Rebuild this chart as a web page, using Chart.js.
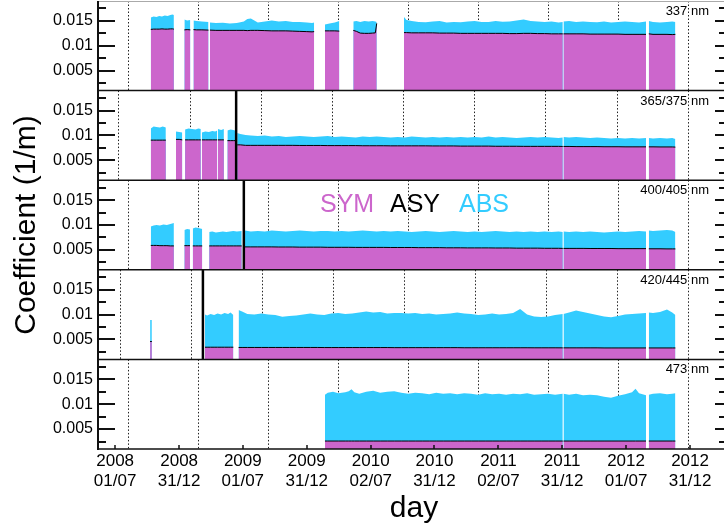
<!DOCTYPE html>
<html>
<head>
<meta charset="utf-8">
<script src="https://cdn.jsdelivr.net/npm/chart.js@4.4.1/dist/chart.umd.min.js"></script>
<style>
  html, body { margin: 0; padding: 0; background: #fff; }
  canvas { display: block; }
</style>
</head>
<body>
<canvas id="chart" width="724" height="528"></canvas>
<script>
// x is the day number counted from 2008-01-01
const tickDays = [182, 365, 547, 730, 913, 1095, 1278, 1460, 1643, 1826];
const tickLabels = [['2008', '01/07'], ['2008', '31/12'], ['2009', '01/07'], ['2009', '31/12'], ['2010', '02/07'],
                    ['2010', '31/12'], ['2011', '02/07'], ['2011', '31/12'], ['2012', '01/07'], ['2012', '31/12']];
const yTicks = [0.005, 0.01, 0.015];
const yTickLabels = ['0.005', '0.01', '0.015'];
const yMinorTicks = [0.0025, 0.0075, 0.0125, 0.0175];

const panelNames = ['337 nm', '365/375 nm', '400/405 nm', '420/445 nm', '473 nm'];
const gridDays = [
  [219, 419, 619, 819, 1019, 1219, 1419, 1619, 1819],
  [190, 396, 599, 802, 1005, 1208, 1411, 1617, 1820],
  [219, 419, 619, 819, 1019, 1219, 1419, 1619, 1819],
  [196, 399, 602, 805, 1008, 1211, 1414, 1617, 1820],
  [219, 419, 619, 819, 1019, 1219, 1419, 1619, 1819]
];
const changeDay = [null, 528, 550, 433, null];
const legendNames = ['SYM', 'ASY', 'ABS'];

// 337 nm
const days337 = [284, 292, 300, 308, 316, 324, 332, 340, 346, 350, 365,
  380, 388, 397, 401,
  406, 415, 430, 449, 451, 453, 470, 490, 510, 530, 550, 560, 570, 580, 590, 610, 630, 650, 670, 690, 710, 730, 745, 751, 765,
  782, 795, 810, 823, 840,
  863, 872, 883, 895, 907, 918, 926, 930, 970,
  1008, 1015, 1030, 1050, 1070, 1090, 1110, 1130, 1150, 1170, 1190, 1210, 1230, 1250, 1270, 1290, 1310, 1330, 1350, 1370, 1390, 1410, 1430, 1450, 1462, 1463,
  1464, 1480, 1500, 1520, 1540, 1560, 1580, 1600, 1620, 1640, 1660, 1680, 1700, 1705,
  1708, 1720, 1740, 1760, 1775, 1784];
const abs337 = [0.0157, 0.0159, 0.0158, 0.0160, 0.0159, 0.0161, 0.0160, 0.0162, 0.0163, 0.0162, null,
  0.0153, 0.0151, 0.0152, null,
  0.0151, 0.0150, 0.0149, 0.0148, null, 0.0147, 0.0146, 0.01465, 0.0145, 0.0146, 0.0149, 0.0154, 0.0155, 0.0151, 0.0147, 0.0149, 0.0151, 0.0149, 0.0150, 0.0148, 0.0148, 0.0147, 0.0146, 0.0147, null,
  0.0143, 0.0145, 0.0147, 0.0150, null,
  0.0149, 0.0150, 0.0148, 0.0150, 0.0149, 0.0150, 0.0149, 0.0148, null,
  0.0158, 0.0152, 0.0150, 0.0148, 0.01475, 0.0149, 0.0150, 0.0147, 0.0148, 0.01475, 0.0149, 0.0150, 0.0148, 0.0148, 0.0150, 0.01485, 0.0149, 0.0151, 0.0153, 0.0150, 0.0149, 0.0148, 0.0149, 0.0147, 0.0148, null,
  0.0149, 0.0150, 0.0148, 0.0149, 0.0148, 0.01475, 0.0149, 0.0147, 0.0148, 0.0149, 0.0148, 0.0147, 0.0149, null,
  0.0150, 0.0148, 0.0147, 0.0148, 0.0149, 0.0148];
const sym337 = [0.0133, 0.01335, 0.01335, 0.01335, 0.0134, 0.01335, 0.01335, 0.0134, 0.0134, 0.01335, null,
  0.0132, 0.01325, 0.0132, null,
  0.01325, 0.0132, 0.0132, 0.01315, null, 0.01315, 0.0131, 0.0131, 0.0131, 0.0131, 0.0131, 0.01305, 0.0131, 0.0131, 0.0131, 0.01305, 0.0130, 0.0130, 0.0130, 0.01295, 0.0129, 0.01285, 0.0128, 0.01285, null,
  0.0130, 0.0130, 0.0130, 0.01295, null,
  0.0131, 0.0129, 0.01255, 0.0125, 0.0125, 0.01255, 0.0126, 0.0145, null,
  0.01265, 0.01265, 0.0126, 0.0126, 0.0126, 0.0126, 0.01255, 0.01255, 0.01255, 0.0125, 0.0125, 0.0125, 0.0125, 0.0125, 0.0125, 0.0125, 0.01245, 0.01245, 0.0125, 0.0125, 0.01245, 0.01245, 0.0124, 0.0124, 0.0124, null,
  0.0124, 0.0124, 0.0124, 0.0124, 0.01235, 0.01235, 0.01235, 0.01235, 0.01235, 0.0123, 0.0123, 0.0123, 0.0123, null,
  0.0124, 0.0123, 0.0123, 0.0123, 0.01225, 0.0123];

// 365/375 nm
const days365 = [284, 292, 300, 310, 318, 327, 341,
  356, 365, 374, 378,
  382, 392, 402, 412, 420, 427, 428.5,
  430, 440, 450, 460, 468, 474, 475,
  476, 485, 493, 498,
  503, 512, 520, 525, 528,
  531, 540, 555, 570, 590, 610, 630, 650, 670, 690, 710, 730, 750, 770, 790, 810, 830, 850, 870, 890, 910, 930, 950, 970,
  990, 1010, 1030, 1050, 1070, 1090, 1110, 1130, 1150, 1170, 1190, 1210, 1230, 1250, 1270, 1290, 1310, 1330, 1350, 1370,
  1390, 1410, 1430, 1450, 1462, 1463,
  1464, 1480, 1500, 1520, 1540, 1560, 1580, 1600, 1620, 1640, 1660, 1680, 1700, 1705,
  1708, 1720, 1740, 1760, 1775, 1784];
const abs365 = [0.0114, 0.0118, 0.0117, 0.0116, 0.0118, 0.0116, null,
  0.0108, 0.0107, 0.0106, null,
  0.0112, 0.0114, 0.0113, 0.0112, 0.0114, 0.0113, null,
  0.0106, 0.0108, 0.0107, 0.0109, 0.0108, 0.0110, null,
  0.0113, 0.0111, 0.0113, null,
  0.0110, 0.0112, 0.0111, 0.0110, null,
  0.0105, 0.0103, 0.0101, 0.0100, 0.0099, 0.0100, 0.0098, 0.0099, 0.0097, 0.0098, 0.0099, 0.0098, 0.0097, 0.0098, 0.0099, 0.0097, 0.0098, 0.0097, 0.0096, 0.0098, 0.0097, 0.0098, 0.0097, 0.0096,
  0.0097, 0.0096, 0.0098, 0.0097, 0.0096, 0.0097, 0.0096, 0.0097, 0.0096, 0.0097, 0.0096, 0.0097, 0.0096, 0.0098, 0.0096, 0.0097, 0.0096, 0.0095, 0.0096, 0.0097,
  0.0096, 0.0097, 0.0096, 0.0095, 0.0096, null,
  0.0097, 0.0096, 0.0097, 0.0096, 0.0095, 0.0096, 0.0095, 0.0094, 0.0095, 0.0094, 0.0095, 0.0094, 0.0095, null,
  0.0095, 0.0094, 0.0095, 0.0094, 0.0095, 0.0093];
const sym365 = [0.00905, 0.00905, 0.00905, 0.00905, 0.00905, 0.00905, null,
  0.0092, 0.0092, 0.0091, null,
  0.0091, 0.0091, 0.0091, 0.0091, 0.0091, 0.0091, null,
  0.0091, 0.0091, 0.0091, 0.0091, 0.0091, 0.0091, null,
  0.0091, 0.0091, 0.0091, null,
  0.00895, 0.00895, 0.00895, 0.00895, null,
  0.0081, 0.0081, 0.0080, 0.0080, 0.0080, 0.0080, 0.0080, 0.0080, 0.0080, 0.0080, 0.00798, 0.00798, 0.00798, 0.00798, 0.00795, 0.00795, 0.00795, 0.00795, 0.00795, 0.00792, 0.00792, 0.00792, 0.00792, 0.0079,
  0.0079, 0.0079, 0.0079, 0.0079, 0.0079, 0.00788, 0.00788, 0.00788, 0.00788, 0.00785, 0.00785, 0.00785, 0.00785, 0.00785, 0.00782, 0.00782, 0.00782, 0.00782, 0.0078, 0.0078,
  0.0078, 0.0078, 0.0078, 0.0078, 0.00778, null,
  0.00778, 0.00778, 0.00775, 0.00775, 0.00775, 0.00775, 0.00772, 0.00772, 0.00772, 0.0077, 0.0077, 0.0077, 0.0077, null,
  0.0077, 0.0077, 0.00768, 0.00768, 0.00768, 0.00765];

// 400/405 nm
const days400 = [284, 292, 300, 310, 320, 330, 340, 350, 365,
  380, 388, 396, 400,
  404, 412, 420, 431, 441,
  451, 460, 470, 480, 490, 500, 510, 520, 530, 544, 548,
  553, 570, 590, 610, 630, 650, 670, 690, 710, 730, 750, 770, 790, 810, 830, 850, 870, 890, 910, 930, 950, 970,
  990, 1010, 1030, 1050, 1070, 1090, 1110, 1130, 1150, 1170, 1190, 1210, 1230, 1250, 1270, 1290, 1310, 1330, 1350, 1370,
  1390, 1410, 1430, 1450, 1462, 1463,
  1464, 1480, 1500, 1520, 1540, 1560, 1580, 1600, 1620, 1640, 1660, 1680, 1700, 1705,
  1708, 1720, 1740, 1760, 1775, 1784];
const abs400 = [0.0097, 0.0099, 0.0100, 0.0099, 0.0101, 0.0100, 0.0102, 0.0104, null,
  0.0090, 0.0092, 0.0091, null,
  0.0093, 0.0095, 0.0094, 0.0092, null,
  0.0086, 0.0087, 0.0085, 0.0086, 0.0087, 0.0086, 0.0087, 0.0088, 0.0087, 0.0088, null,
  0.0089, 0.0087, 0.0088, 0.0087, 0.0089, 0.0088, 0.0087, 0.0088, 0.0089, 0.0088, 0.0087, 0.0088, 0.0088, 0.0087, 0.0088, 0.0087, 0.0088, 0.0089, 0.0088, 0.0087, 0.0088, 0.0087,
  0.0088, 0.0087, 0.0086, 0.0087, 0.0088, 0.0087, 0.0086, 0.0087, 0.0088, 0.0087, 0.0086, 0.0087, 0.0086, 0.0087, 0.0088, 0.0087, 0.0086, 0.0087, 0.0086, 0.0087,
  0.0086, 0.0087, 0.0086, 0.0087, 0.0086, null,
  0.0087, 0.0086, 0.0087, 0.0086, 0.0087, 0.0086, 0.0085, 0.0086, 0.0087, 0.0086, 0.0087, 0.0088, 0.0087, null,
  0.0089, 0.0088, 0.0089, 0.0090, 0.0089, 0.0086];
const sym400 = [0.0059, 0.0059, 0.0059, 0.00585, 0.00585, 0.00585, 0.0058, 0.0058, null,
  0.00585, 0.00585, 0.00585, null,
  0.0058, 0.0058, 0.0058, 0.0058, null,
  0.0058, 0.0058, 0.0058, 0.0058, 0.0058, 0.0058, 0.0058, 0.0058, 0.0058, 0.0058, null,
  0.0056, 0.0056, 0.0056, 0.0056, 0.0056, 0.00558, 0.00558, 0.00558, 0.00555, 0.00555, 0.00555, 0.00555, 0.00552, 0.00552, 0.00552, 0.00552, 0.0055, 0.0055, 0.0055, 0.0055, 0.0055, 0.00548,
  0.00548, 0.00548, 0.00548, 0.00545, 0.00545, 0.00545, 0.00545, 0.00542, 0.00542, 0.00542, 0.0054, 0.0054, 0.0054, 0.0054, 0.00538, 0.00538, 0.00538, 0.00535, 0.00535, 0.00535,
  0.00535, 0.00532, 0.00532, 0.00532, 0.0053, null,
  0.0053, 0.0053, 0.0053, 0.0053, 0.00528, 0.00528, 0.00528, 0.00528, 0.00525, 0.00525, 0.00525, 0.00525, 0.00525, null,
  0.00522, 0.00522, 0.00522, 0.0052, 0.0052, 0.0052];

// 420/445 nm
const days420 = [282, 287, 300,
  439, 445, 455, 465, 475, 485, 495, 505, 512, 520, 527,
  535, 545, 560, 580, 600, 620, 640, 660, 680, 700, 720, 740, 760, 780, 800, 820, 840, 860, 880, 900, 920, 940, 960,
  980, 1000, 1020, 1040, 1060, 1080, 1100, 1120, 1140, 1160, 1180, 1200, 1220, 1240, 1260, 1280, 1300, 1320, 1340, 1360,
  1380, 1400, 1420, 1440, 1462, 1463,
  1464, 1480, 1500, 1520, 1540, 1560, 1580, 1600, 1620, 1640, 1660, 1680, 1700, 1705,
  1708, 1720, 1740, 1760, 1775, 1784];
const abs420 = [0.0089, 0.0089, null,
  0.0100, 0.0098, 0.0101, 0.0099, 0.0102, 0.0100, 0.0103, 0.0101, 0.0104, 0.0099, null,
  0.0109, 0.0106, 0.0101, 0.0100, 0.0102, 0.0100, 0.0099, 0.00955, 0.0097, 0.0098, 0.0100, 0.0102, 0.0100, 0.0099, 0.0102, 0.0103, 0.0101, 0.0102, 0.0104, 0.0106, 0.0104, 0.0105, 0.0102,
  0.0103, 0.0103, 0.0102, 0.0103, 0.0101, 0.0102, 0.0100, 0.0101, 0.0102, 0.0104, 0.0102, 0.0101, 0.0099, 0.0100, 0.0102, 0.0100, 0.0101, 0.0103, 0.0111, 0.0100,
  0.0096, 0.0095, 0.0096, 0.0099, 0.0101, null,
  0.0101, 0.0104, 0.0108, 0.0105, 0.0102, 0.0099, 0.0096, 0.00945, 0.0097, 0.0100, 0.0101, 0.0102, 0.0103, null,
  0.0104, 0.0103, 0.0105, 0.0110, 0.0104, 0.0099];
const sym420 = [0.0046, 0.0046, null,
  0.00345, 0.00345, 0.00345, 0.00345, 0.00345, 0.00345, 0.00345, 0.00345, 0.00345, 0.00345, null,
  0.0034, 0.0034, 0.0034, 0.0034, 0.0034, 0.0034, 0.0034, 0.0034, 0.0034, 0.0034, 0.0034, 0.0034, 0.0034, 0.00338, 0.00338, 0.00338, 0.00338, 0.00338, 0.00338, 0.00338, 0.00338, 0.00338, 0.00338,
  0.00336, 0.00336, 0.00336, 0.00336, 0.00336, 0.00336, 0.00336, 0.00336, 0.00336, 0.00336, 0.00334, 0.00334, 0.00334, 0.00334, 0.00334, 0.00334, 0.00334, 0.00334, 0.00334, 0.00334,
  0.00333, 0.00333, 0.00333, 0.00333, 0.00332, null,
  0.00332, 0.00332, 0.00332, 0.00332, 0.00332, 0.00332, 0.0033, 0.0033, 0.0033, 0.0033, 0.0033, 0.0033, 0.0033, null,
  0.0033, 0.0033, 0.0033, 0.0033, 0.0033, 0.0033];

// 473 nm
const days473 = [782, 790, 805, 820, 840, 850, 858, 866, 880,
  900, 920, 940, 960, 980, 1000, 1020, 1040, 1060, 1080, 1100, 1120, 1140, 1160, 1180, 1200, 1220, 1240, 1260, 1280,
  1300, 1320, 1340, 1360, 1380, 1400, 1420, 1440, 1462, 1463,
  1464, 1480, 1500, 1520, 1540, 1560, 1580, 1600, 1620, 1640, 1660, 1670, 1680, 1700, 1705,
  1708, 1720, 1740, 1760, 1775, 1784];
const abs473 = [0.0119, 0.0123, 0.0125, 0.0122, 0.0124, 0.0126, 0.0130, 0.0124, 0.0121,
  0.0125, 0.0127, 0.0123, 0.0125, 0.0126, 0.0123, 0.0121, 0.0123, 0.0122, 0.0120, 0.0123, 0.0121, 0.0122, 0.0120, 0.0122, 0.0121, 0.0119, 0.0122, 0.0120, 0.0121,
  0.0119, 0.0121, 0.0120, 0.0122, 0.0119, 0.0120, 0.0121, 0.0119, 0.0121, null,
  0.0121, 0.0119, 0.0121, 0.0118, 0.0119, 0.0118, 0.0115, 0.0113, 0.0117, 0.0120, 0.0124, 0.0131, 0.0122, 0.0118, null,
  0.0119, 0.0121, 0.0122, 0.0120, 0.0121, 0.0122];
const sym473 = [0.0026, 0.0026, 0.0026, 0.0026, 0.0026, 0.0026, 0.0026, 0.0026, 0.0026,
  0.0026, 0.0026, 0.0026, 0.0026, 0.0026, 0.0026, 0.0026, 0.0026, 0.0026, 0.0026, 0.0026, 0.0026, 0.0026, 0.0026, 0.0026, 0.0026, 0.0026, 0.0026, 0.0026, 0.0026,
  0.0026, 0.0026, 0.0026, 0.0026, 0.0026, 0.0026, 0.0026, 0.0026, 0.0026, null,
  0.0026, 0.0026, 0.0026, 0.0026, 0.0026, 0.0026, 0.0026, 0.0026, 0.0026, 0.0026, 0.0026, 0.0026, 0.0026, 0.0026, null,
  0.0026, 0.0026, 0.0026, 0.0026, 0.0026, 0.0026];

const SYM_COLOR = '#cc66cc';
const ABS_COLOR = '#33ccff';
const FONT = '"Liberation Sans", Arial, Helvetica, sans-serif';

const panels = [
  { days: days337, abs: abs337, sym: sym337 },
  { days: days365, abs: abs365, sym: sym365 },
  { days: days400, abs: abs400, sym: sym400 },
  { days: days420, abs: abs420, sym: sym420 },
  { days: days473, abs: abs473, sym: sym473 }
];

const datasets = [];
const scales = {
  x: {
    type: 'linear', position: 'bottom', min: 133, max: 1923,
    afterBuildTicks: s => { s.ticks = tickDays.map(v => ({ value: v })); },
    afterFit: s => { s.height = 79; s.paddingLeft = 0; s.paddingRight = 0; },
    grid: { display: false, drawTicks: false }, border: { display: false },
    ticks: {
      callback: (v, i) => tickLabels[i],
      autoSkip: false, maxRotation: 0, padding: 2, color: '#000',
      font: { family: FONT, size: 17, lineHeight: 1.18 }
    }
  }
};

panels.forEach((p, k) => {
  const id = 'y' + k;
  datasets.push({
    label: 'SYM', yAxisID: id, order: 0,
    data: p.days.map((d, i) => ({ x: d, y: p.sym[i] })),
    borderColor: '#000', borderWidth: 1, backgroundColor: SYM_COLOR,
    fill: 'start', pointRadius: 0, tension: 0
  });
  datasets.push({
    label: 'ABS', yAxisID: id, order: 1,
    data: p.days.map((d, i) => ({ x: d, y: p.abs[i] })),
    borderColor: ABS_COLOR, borderWidth: 0, backgroundColor: ABS_COLOR,
    fill: 'start', pointRadius: 0, tension: 0
  });
});

// stacked panel axes, listed bottom panel first so that 337 nm ends on top
for (let k = panels.length - 1; k >= 0; k--) {
  scales['y' + k] = {
    type: 'linear', position: 'left', stack: 'panels', stackWeight: 1,
    min: 0.001, max: 0.019,
    afterBuildTicks: s => { s.ticks = yTicks.map(v => ({ value: v })); },
    afterFit: s => { s.width = 98; s.paddingTop = 0; s.paddingBottom = 0; },
    grid: { display: false, drawTicks: false }, border: { display: false },
    ticks: {
      callback: (v, i) => yTickLabels[i],
      padding: 5, color: '#000',
      font: { family: FONT, size: 16 }
    }
  };
}

const panelPlugin = {
  id: 'panelDecor',
  beforeDatasetsDraw(chart) {
    const ctx = chart.ctx, xs = chart.scales.x;
    ctx.save();
    ctx.strokeStyle = '#222';
    ctx.lineWidth = 1;
    ctx.setLineDash([1.5, 2]);
    gridDays.forEach((list, k) => {
      const ys = chart.scales['y' + k];
      list.forEach(d => {
        const px = Math.round(xs.getPixelForValue(d)) + 0.5;
        ctx.beginPath();
        ctx.moveTo(px, ys.top);
        ctx.lineTo(px, ys.bottom);
        ctx.stroke();
      });
    });
    ctx.restore();
  },
  afterDatasetsDraw(chart) {
    const ctx = chart.ctx, xs = chart.scales.x, area = chart.chartArea;
    ctx.save();
    // instrument change lines
    ctx.strokeStyle = '#000';
    ctx.lineWidth = 2.5;
    changeDay.forEach((d, k) => {
      if (d === null) return;
      const ys = chart.scales['y' + k];
      const px = xs.getPixelForValue(d);
      ctx.beginPath();
      ctx.moveTo(px, ys.top);
      ctx.lineTo(px, ys.bottom);
      ctx.stroke();
    });
    // frames and y ticks
    for (let k = 0; k < 5; k++) {
      const ys = chart.scales['y' + k];
      ctx.strokeStyle = '#111';
      ctx.lineWidth = 1.5;
      ctx.beginPath();
      ctx.moveTo(area.left, ys.bottom);
      ctx.lineTo(area.right, ys.bottom);
      ctx.stroke();
      ctx.lineWidth = 2;
      yTicks.forEach(v => {
        const py = Math.round(ys.getPixelForValue(v));
        ctx.beginPath();
        ctx.moveTo(area.left, py); ctx.lineTo(area.left + 17, py);
        ctx.moveTo(area.right - 9, py); ctx.lineTo(area.right, py);
        ctx.stroke();
      });
      yMinorTicks.forEach(v => {
        const py = Math.round(ys.getPixelForValue(v));
        ctx.beginPath();
        ctx.moveTo(area.left, py); ctx.lineTo(area.left + 8, py);
        ctx.moveTo(area.right - 5, py); ctx.lineTo(area.right, py);
        ctx.stroke();
      });
      ctx.fillStyle = '#000';
      ctx.font = '13px ' + FONT;
      ctx.textAlign = 'right';
      ctx.textBaseline = 'alphabetic';
      ctx.fillText(panelNames[k], 709, ys.top + 14);
    }
    ctx.strokeStyle = '#aaa';
    ctx.lineWidth = 1;
    ctx.beginPath();
    ctx.moveTo(area.left, area.top + 0.5); ctx.lineTo(area.right, area.top + 0.5);
    ctx.stroke();
    ctx.strokeStyle = '#111';
    ctx.lineWidth = 2;
    ctx.beginPath();
    ctx.moveTo(area.left, area.top); ctx.lineTo(area.left, area.bottom + 1);
    ctx.stroke();
    // x ticks on the bottom axis
    ctx.lineWidth = 1.5;
    tickDays.forEach(d => {
      const px = Math.round(xs.getPixelForValue(d));
      ctx.beginPath();
      ctx.moveTo(px, area.bottom); ctx.lineTo(px, area.bottom - 4);
      ctx.stroke();
    });
    // legend words
    ctx.font = '25px ' + FONT;
    ctx.textAlign = 'left';
    const legendColors = [SYM_COLOR, '#000', ABS_COLOR];
    const legendX = [320, 390, 459];
    legendNames.forEach((t, i) => {
      ctx.fillStyle = legendColors[i];
      ctx.fillText(t, legendX[i], 212);
    });
    // axis titles
    ctx.fillStyle = '#000';
    ctx.font = '30px ' + FONT;
    ctx.textAlign = 'center';
    ctx.fillText('day', 414, 517);
    ctx.translate(35, 225);
    ctx.rotate(-Math.PI / 2);
    ctx.fillText('Coefficient (1/m)', 0, 0);
    ctx.restore();
  }
};

new Chart(document.getElementById('chart'), {
  type: 'line',
  data: { datasets },
  options: {
    responsive: false,
    animation: false,
    devicePixelRatio: 1,
    layout: { padding: { top: 1, left: 0, right: 0, bottom: 0 } },
    plugins: { legend: { display: false }, tooltip: { enabled: false } },
    scales
  },
  plugins: [panelPlugin]
});
</script>
</body>
</html>
